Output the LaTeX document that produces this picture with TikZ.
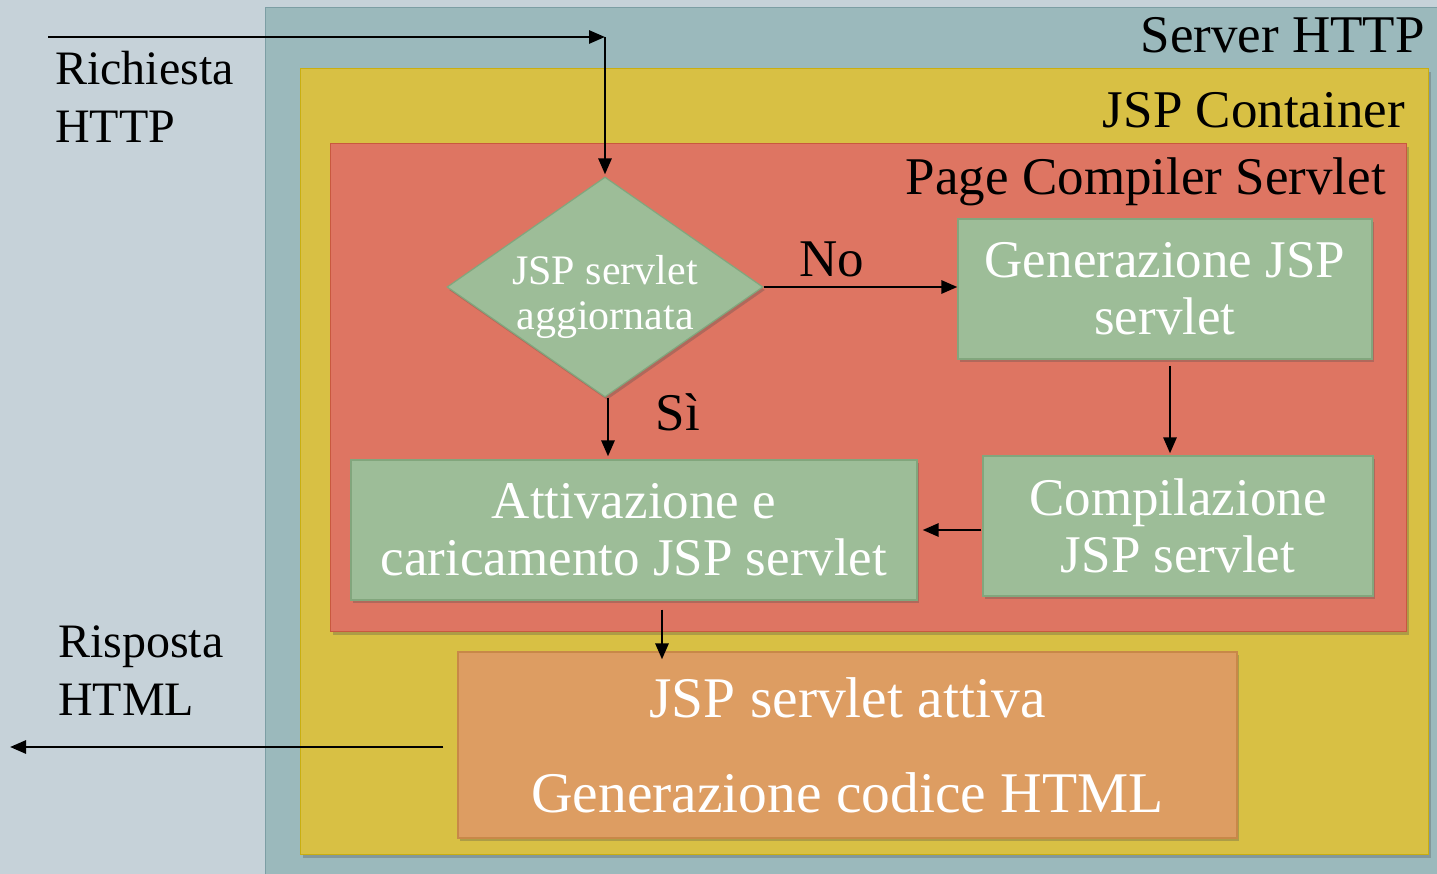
\documentclass[tikz,border=0pt]{standalone}
\usepackage{fontspec}
\setmainfont{Liberation Serif}
\usetikzlibrary{arrows.meta,shapes.geometric,shadows,calc}
\definecolor{bgc}{HTML}{C6D2D9}
\definecolor{srvc}{HTML}{9BB9BC}
\definecolor{srvd}{HTML}{7C9EA4}
\definecolor{ctnc}{HTML}{D8C044}
\definecolor{ctnd}{HTML}{C9AE10}
\definecolor{pcsc}{HTML}{DE7562}
\definecolor{pcsd}{HTML}{C9583F}
\definecolor{grnc}{HTML}{9DBD98}
\definecolor{grnd}{HTML}{82A67D}
\definecolor{orgc}{HTML}{DD9D62}
\definecolor{orgd}{HTML}{C88848}
\begin{document}
\begin{tikzpicture}[x=1pt,y=-1pt,
  box/.style={rectangle, line width=1.2pt, inner sep=0pt},
  shad/.style={drop shadow={shadow xshift=2pt,shadow yshift=-3pt,opacity=0.3,fill=black!70}},
  ttl/.style={inner sep=0pt, text=black, font=\fontsize{53}{57}\selectfont},
  lbl/.style={inner sep=0pt, text=black, font=\fontsize{48}{58}\selectfont, align=left},
  wtxt/.style={inner sep=0pt, text=white, align=center, font=\fontsize{53}{57}\selectfont},
  arr/.style={line width=2.8pt, -{Triangle[length=16pt,width=13pt]}}]
\useasboundingbox (0,0) rectangle (1437,874);
\clip (0,0) rectangle (1437,874);
\fill[bgc] (0,0) rectangle (1437,874);
% containers
\node[box, draw=srvd, fill=srvc, minimum width=1200pt, minimum height=900pt, anchor=north west] (srv) at (265,7) {};
\node[box, draw=ctnd, fill=ctnc, shad, minimum width=1128pt, minimum height=786pt, anchor=north west] (ctn) at (300,68) {};
\node[box, draw=pcsd, fill=pcsc, shad, minimum width=1076pt, minimum height=488pt, anchor=north west] (pcs) at (330,143) {};
\node[ttl, anchor=base east] (tsrv) at (1425,53) {Server HTTP};
\node[ttl, anchor=base east] (tctn) at (1405,128) {JSP Container};
\node[ttl, anchor=base east] (tpcs) at (1386,195) {Page Compiler Servlet};
% flow nodes
\node[diamond, draw=grnd, fill=grnc, line width=1.2pt, minimum width=316pt, minimum height=220pt, inner sep=0pt, shad] (dec) at (605,287) {};
\node[wtxt, font=\fontsize{42}{45}\selectfont] (dect) at (605,297) {JSP servlet\\aggiornata};
\node[box, draw=grnd, fill=grnc, shad, minimum width=414pt, minimum height=140pt, wtxt] (gen) at (1165,289) {Generazione JSP\\servlet};
\node[box, draw=grnd, fill=grnc, shad, minimum width=390pt, minimum height=140pt, wtxt] (comp) at (1178,526) {Compilazione\\JSP servlet};
\node[box, draw=grnd, fill=grnc, shad, minimum width=566pt, minimum height=140pt, wtxt] (att) at (634,530) {Attivazione e\\caricamento JSP servlet};
\node[box, draw=orgd, fill=orgc, shad, minimum width=779pt, minimum height=186pt, wtxt, font=\fontsize{57.5}{95}\selectfont] (out) at (847.5,745) {JSP servlet attiva\\Generazione codice HTML};
% labels
\node[lbl, anchor=north west] (lreq) at (55,51) {Richiesta\\HTTP};
\node[lbl, anchor=north west] (lresp) at (58,626) {Risposta\\HTML};
\node[ttl, anchor=base] (lno) at (832,277) {No};
\node[ttl, anchor=base] (lsi) at (678,430) {Sì};
% connectors
\coordinate (reqStart) at (48,37);
\coordinate (reqCorner) at (605,37);
\coordinate (respEnd) at (10,747);
\draw[arr] (reqStart) -- (reqCorner);
\draw[arr, shorten >=2pt] (reqCorner) -- (dec.north);
\draw[arr] (dec.east) -- (dec.east -| gen.west);
\draw[arr, shorten >=3pt] ([xshift=3pt]dec.south) -- ([xshift=3pt]dec.south |- att.north);
\draw[arr, shorten <=6pt, shorten >=2pt] ([xshift=5pt]gen.south) -- ([xshift=5pt]gen.south |- comp.north);
\draw[arr, shorten <=1pt, shorten >=5pt] (att.east -| comp.west) -- (att.east);
\draw[arr, shorten <=9pt, shorten >=-8pt] ([xshift=28pt]att.south) -- ([xshift=28pt]att.south |- out.north);
\draw[arr, shorten <=14pt] (out.west |- respEnd) -- (respEnd);
\end{tikzpicture}
\end{document}
